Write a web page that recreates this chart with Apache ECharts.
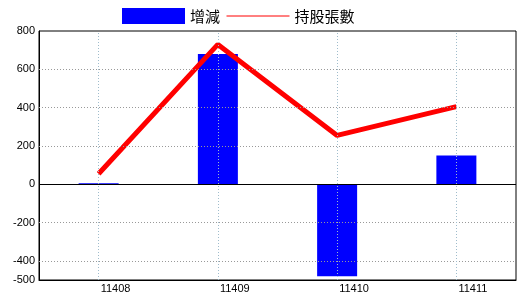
<!DOCTYPE html>
<html>
<head>
<meta charset="utf-8">
<script src="https://cdn.jsdelivr.net/npm/echarts@6/dist/echarts.min.js"></script>
<style>html,body{margin:0;padding:0;background:#fff}#c{width:520px;height:300px}</style>
</head>
<body>
<div id="c"></div>
<script>
var categories = ['11408', '11409', '11410', '11411'];
var changeValues = [5, 680, -480, 150];
var holdingValues = [55, 730, 255, 405];
var yTickLabels = [-500, -400, -200, 0, 200, 400, 600, 800];
var yGridLines = [-400, -200, 200, 400, 600];
var seriesNames = ['增減', '持股張數'];

var chart = echarts.init(document.getElementById('c'), null, {renderer: 'canvas'});
var font = '"Liberation Sans", Arial, sans-serif';
var cjk = '"Noto Sans CJK TC", "Noto Sans CJK SC", sans-serif';

chart.setOption({
  animation: false,
  backgroundColor: '#fff',
  legend: {
    left: 122, top: 8, padding: 0,
    itemWidth: 63, itemHeight: 16, itemGap: 6,
    textStyle: {fontSize: 15, color: '#000', fontFamily: cjk},
    data: [
      {name: seriesNames[0], icon: 'rect'},
      {name: seriesNames[1], itemStyle: {opacity: 0}, lineStyle: {width: 1, color: '#ff0000'}}
    ]
  },
  grid: {left: 39, right: 4, top: 31, bottom: 20, show: true, borderColor: '#000', borderWidth: 1, backgroundColor: 'transparent'},
  xAxis: {
    type: 'category', data: categories,
    axisLine: {onZero: false, lineStyle: {color: '#000'}},
    axisTick: {show: false},
    splitLine: {show: false},
    axisLabel: {color: '#000', fontSize: 11, fontFamily: font, align: 'left', padding: [0, 0, 0, 2], margin: 3}
  },
  yAxis: {
    type: 'value', min: -500, max: 800, interval: 100,
    axisLine: {show: true, lineStyle: {color: '#000'}},
    axisTick: {show: false},
    splitLine: {show: false},
    axisLabel: {
      color: '#000', fontSize: 11, fontFamily: font, margin: 4,
      formatter: function (v) { return yTickLabels.indexOf(v) >= 0 ? String(v) : ''; }
    }
  },
  series: [
    {
      type: 'line', name: '_grid', data: [], z: 1, silent: true,
      markLine: {
        silent: true, symbol: ['none', 'none'], label: {show: false}, animation: false,
        data: yGridLines.map(function (v) { return {yAxis: v, lineStyle: {color: '#999', type: [1, 2], width: 1}}; })
          .concat(categories.map(function (c) { return {xAxis: c, lineStyle: {color: '#9fbccc', type: [1, 2], width: 1}}; }))
      }
    },
    {
      type: 'bar', name: seriesNames[0], data: changeValues, z: 2,
      barWidth: 40,
      itemStyle: {color: '#0000ff'},
      markLine: {
        silent: true, symbol: ['none', 'none'], label: {show: false}, animation: false,
        data: [{yAxis: 0, lineStyle: {color: '#000', type: 'solid', width: 1}}]
      }
    },
    {
      type: 'line', name: seriesNames[1], data: holdingValues, z: 3,
      symbol: 'none',
      lineStyle: {color: '#ff0000', width: 5},
      itemStyle: {color: '#ff0000'}
    }
  ]
});
</script>
</body>
</html>
